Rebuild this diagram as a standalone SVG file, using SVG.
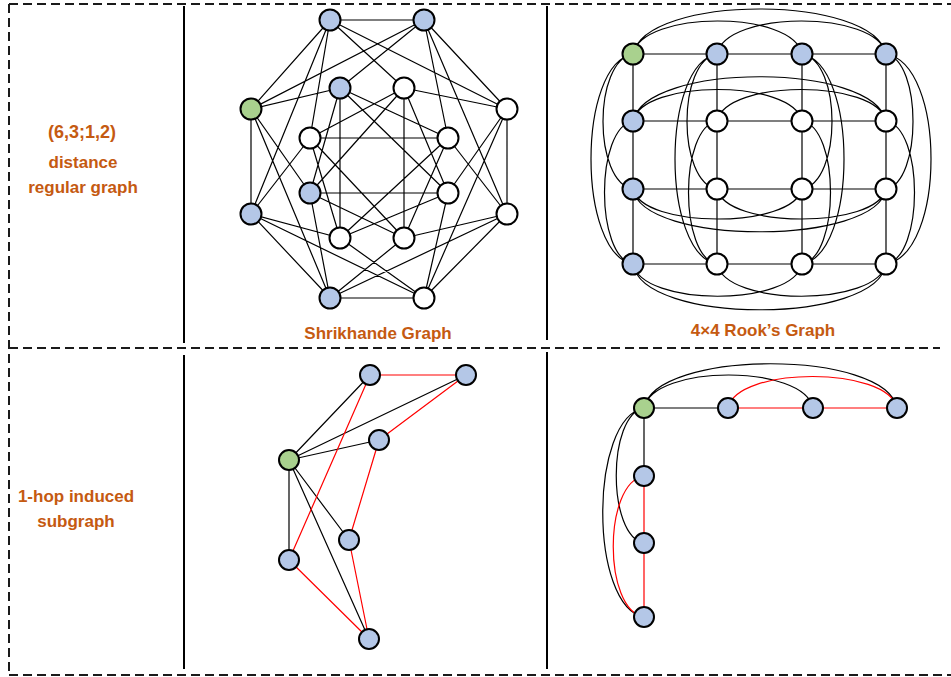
<svg xmlns="http://www.w3.org/2000/svg" width="951" height="677" viewBox="0 0 951 677">
<style>
.frame{stroke:#1a1a1a;stroke-width:2;stroke-dasharray:9,5;fill:none}
.sep{stroke:#000;stroke-width:2;fill:none}
.e{stroke:#000;stroke-width:1.2;fill:none}
.r{stroke:#ff0000;stroke-width:1.2;fill:none}
.n circle{stroke:#000;stroke-width:2}
.b{fill:#b4c7e7}
.g{fill:#a9d18e}
.w{fill:#fff}
.lbl{font-family:"Liberation Sans",Arial,sans-serif;font-weight:bold;font-size:17px;fill:#c55a11;text-anchor:middle}
</style>
<rect width="951" height="677" fill="#fff"/>
<g id="frame">
<line class="frame" x1="9" y1="4" x2="951" y2="4"/>
<line class="frame" x1="9" y1="4" x2="9" y2="675"/>
<line class="frame" x1="9" y1="675" x2="951" y2="675"/>
<line class="frame" x1="9" y1="348" x2="940" y2="348"/>
<line class="sep" x1="184" y1="6" x2="184" y2="343"/>
<line class="sep" x1="184" y1="355" x2="184" y2="669"/>
<line class="sep" x1="547" y1="6" x2="547" y2="340"/>
<line class="sep" x1="547" y1="352" x2="547" y2="669"/>
</g>
<g id="labels">
<text class="lbl" x="82" y="138" style="font-size:18px">(6,3;1,2)</text>
<text class="lbl" x="83" y="168">distance</text>
<text class="lbl" x="83" y="193">regular graph</text>
<text class="lbl" x="76" y="502">1-hop induced</text>
<text class="lbl" x="76" y="527">subgraph</text>
<text class="lbl" x="378" y="339">Shrikhande Graph</text>
<text class="lbl" x="763" y="336">4×4 Rook’s Graph</text>
</g>
<g id="shrikhande-edges">
<path class="e" d="M251,109L251,214 M251,109L424,20 M251,109L330,20
M251,214L340,238 M251,214L330,20 M251,214L310,138
M340,238L340,88 M340,238L310,138 M340,238L448,138
M340,88L251,109 M340,88L448,138 M340,88L424,20
M424,20L330,20 M424,20L507,214 M424,20L507,109
M330,20L310,138 M330,20L507,109 M330,20L404,88
M310,138L448,138 M310,138L404,88 M310,138L404,238
M448,138L424,20 M448,138L404,238 M448,138L507,214
M507,214L507,109 M507,214L330,298 M507,214L424,298
M507,109L404,88 M507,109L424,298 M507,109L448,193
M404,88L404,238 M404,88L448,193 M404,88L310,193
M404,238L507,214 M404,238L310,193 M404,238L330,298
M330,298L424,298 M330,298L251,109 M330,298L251,214
M424,298L448,193 M424,298L251,214 M424,298L340,238
M448,193L310,193 M448,193L340,238 M448,193L340,88
M310,193L330,298 M310,193L340,88 M310,193L251,109"/>
</g>
<g id="shrikhande-nodes" class="n">
<circle id="sA" class="b" cx="330" cy="20" r="10.5"/>
<circle id="sB" class="b" cx="424" cy="20" r="10.5"/>
<circle id="sC" class="g" cx="251" cy="109" r="10.5"/>
<circle id="sD" class="b" cx="340" cy="88" r="10.5"/>
<circle id="sE" class="w" cx="404" cy="88" r="10.5"/>
<circle id="sF" class="w" cx="507" cy="109" r="10.5"/>
<circle id="sG" class="w" cx="310" cy="138" r="10.5"/>
<circle id="sH" class="w" cx="448" cy="138" r="10.5"/>
<circle id="sI" class="b" cx="310" cy="193" r="10.5"/>
<circle id="sJ" class="w" cx="448" cy="193" r="10.5"/>
<circle id="sK" class="b" cx="251" cy="214" r="10.5"/>
<circle id="sL" class="w" cx="507" cy="214" r="10.5"/>
<circle id="sM" class="w" cx="340" cy="238" r="10.5"/>
<circle id="sN" class="w" cx="404" cy="238" r="10.5"/>
<circle id="sO" class="b" cx="330" cy="298" r="10.5"/>
<circle id="sP" class="w" cx="424" cy="298" r="10.5"/>
</g>
<g id="rook-edges">
<path class="e" d="M633,54H886 M633,121H886 M633,189H886 M633,264H886
M633,54V264 M717,54V264 M802,54V264 M886,54V264"/>
<path class="e" d="
M633,54C646,-6 873,-6 886,54 M633,54C642,10 793,10 802,54 M717,54C726,10 877,10 886,54
M633,121C646,62 873,62 886,121 M633,121C642,79 793,79 802,121 M717,121C726,79 877,79 886,121
M633,189C642,229 793,229 802,189 M717,189C726,229 877,229 886,189 M633,189C642,246 877,246 886,189
M633,264C642,307 793,307 802,264 M717,264C726,307 877,307 886,264 M633,264C642,325 877,325 886,264
M633,54C577,64 577,254 633,264 M633,54C593,61 593,182 633,189 M633,121C595,128 595,257 633,264
M717,54C661,64 661,254 717,264 M717,54C677,61 677,182 717,189 M717,121C679,128 679,257 717,264
M802,54C858,64 858,254 802,264 M802,54C842,61 842,182 802,189 M802,121C840,128 840,257 802,264
M886,54C946,64 946,254 886,264 M886,54C922,61 922,182 886,189 M886,121C924,128 924,257 886,264"/>
</g>
<g id="rook-nodes" class="n">
<circle class="g" cx="633" cy="54" r="10.5"/>
<circle class="b" cx="717" cy="54" r="10.5"/>
<circle class="b" cx="802" cy="54" r="10.5"/>
<circle class="b" cx="886" cy="54" r="10.5"/>
<circle class="b" cx="633" cy="121" r="10.5"/>
<circle class="w" cx="717" cy="121" r="10.5"/>
<circle class="w" cx="802" cy="121" r="10.5"/>
<circle class="w" cx="886" cy="121" r="10.5"/>
<circle class="b" cx="633" cy="189" r="10.5"/>
<circle class="w" cx="717" cy="189" r="10.5"/>
<circle class="w" cx="802" cy="189" r="10.5"/>
<circle class="w" cx="886" cy="189" r="10.5"/>
<circle class="b" cx="633" cy="264" r="10.5"/>
<circle class="w" cx="717" cy="264" r="10.5"/>
<circle class="w" cx="802" cy="264" r="10.5"/>
<circle class="w" cx="886" cy="264" r="10.5"/>
</g>
<g id="sub1-edges">
<path class="e" d="M289,460L370,375 M289,460L466,375 M289,460L379,440 M289,460L349,540 M289,460L289,560 M289,460L369,639"/>
<path class="r" d="M370,375L466,375 M370,375L289,560 M466,375L379,440 M379,440L349,540 M349,540L369,639 M289,560L369,639"/>
</g>
<g id="sub1-nodes" class="n">
<circle class="b" cx="370" cy="375" r="10"/>
<circle class="b" cx="466" cy="375" r="10"/>
<circle class="b" cx="379" cy="440" r="10"/>
<circle class="g" cx="289" cy="460" r="10"/>
<circle class="b" cx="349" cy="540" r="10"/>
<circle class="b" cx="289" cy="560" r="10"/>
<circle class="b" cx="369" cy="639" r="10"/>
</g>
<g id="sub2-edges">
<path class="e" d="M644,408H728 M644,408V476 M644,408C653,364 804,364 813,408 M644,408C655,349 886,349 897,408 M644,408C607,415 607,536 644,543 M644,408C589,418 589,607 644,617"/>
<path class="r" d="M728,408H897 M644,476V617 M728,408C737,366 888,366 897,408 M644,476C603,483 603,610 644,617"/>
</g>
<g id="sub2-nodes" class="n">
<circle class="g" cx="644" cy="408" r="10"/>
<circle class="b" cx="728" cy="408" r="10"/>
<circle class="b" cx="813" cy="408" r="10"/>
<circle class="b" cx="897" cy="408" r="10"/>
<circle class="b" cx="644" cy="476" r="10"/>
<circle class="b" cx="644" cy="543" r="10"/>
<circle class="b" cx="644" cy="617" r="10"/>
</g>
</svg>
